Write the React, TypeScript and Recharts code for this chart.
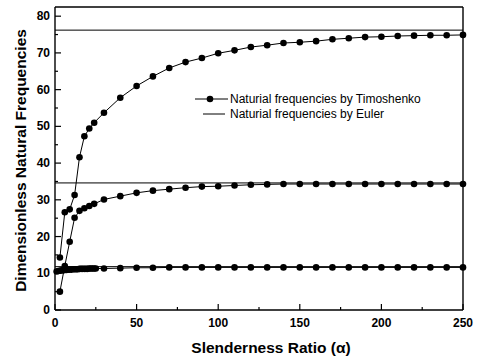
import { LineChart, Line, XAxis, YAxis, ReferenceLine, Legend } from 'recharts'

// slenderness ratios used for the 2nd and 3rd Timoshenko modes
const alphaMain = [3, 6, 9, 12, 15, 18, 21, 24, 30, 40, 50, 60, 70, 80, 90, 100, 110, 120, 130, 140, 150, 160, 170, 180, 190, 200, 210, 220, 230, 240, 250]
const mode2 = [5.0, 12.0, 18.6, 25.1, 27.0, 27.7, 28.3, 28.9, 30.1, 31.0, 31.9, 32.5, 32.9, 33.3, 33.6, 33.7, 33.9, 34.1, 34.2, 34.3, 34.3, 34.3, 34.3, 34.3, 34.3, 34.3, 34.3, 34.3, 34.3, 34.3, 34.3]
const mode3 = [14.3, 26.6, 27.4, 31.3, 41.6, 47.3, 49.4, 51.0, 53.7, 57.8, 61.0, 63.6, 65.9, 67.5, 68.6, 69.9, 70.7, 71.6, 72.1, 72.7, 72.9, 73.2, 73.7, 74.0, 74.3, 74.4, 74.6, 74.7, 74.8, 74.8, 74.9]

// first mode is sampled densely at small ratios
const alphaLow = [1, 2, 3, 4, 5, 6, 7, 8, 9, 10, 11, 12, 13, 14, 15, 16, 17, 18, 19, 20, 21, 22, 23, 24, 25, 30, 40, 50, 60, 70, 80, 90, 100, 110, 120, 130, 140, 150, 160, 170, 180, 190, 200, 210, 220, 230, 240, 250]
const mode1 = [10.5, 10.6, 10.7, 10.8, 10.8, 10.9, 10.9, 11.0, 11.0, 11.0, 11.1, 11.1, 11.1, 11.1, 11.2, 11.2, 11.2, 11.2, 11.2, 11.2, 11.3, 11.3, 11.3, 11.3, 11.3, 11.3, 11.4, 11.5, 11.5, 11.6, 11.6, 11.6, 11.6, 11.6, 11.6, 11.6, 11.6, 11.6, 11.6, 11.6, 11.6, 11.6, 11.6, 11.6, 11.6, 11.6, 11.6, 11.6]

const eulerValues = [11.8, 34.6, 76.2]
const xRange = [0, 250]

const xTicks = [0, 25, 50, 75, 100, 125, 150, 175, 200, 225, 250]
const yTicks = [0, 5, 10, 15, 20, 25, 30, 35, 40, 45, 50, 55, 60, 65, 70, 75, 80]

const FONT = '"Liberation Sans", Arial, sans-serif'

const zip = (xs: number[], ys: number[]) => xs.map((a, i) => ({ a, v: ys[i] }))

const timoshenko = [zip(alphaLow, mode1), zip(alphaMain, mode2), zip(alphaMain, mode3)]
const euler = eulerValues.map((v) => xRange.map((a) => ({ a, v })))

function XTick({ x, y, payload }: any) {
  const major = payload.value % 50 === 0
  return (
    <g>
      <line x1={x} y1={y} x2={x} y2={y - (major ? 6 : 3)} stroke="#000" strokeWidth={1.2} />
      {major && (
        <text x={x} y={y + 17} textAnchor="middle" fontSize={12} fontWeight="bold" fontFamily={FONT} fill="#000">
          {payload.value}
        </text>
      )}
    </g>
  )
}

function YTick({ x, y, payload }: any) {
  const major = payload.value % 10 === 0
  return (
    <g>
      <line x1={x} y1={y} x2={x + (major ? 6 : 3)} y2={y} stroke="#000" strokeWidth={1.2} />
      {major && (
        <text x={x - 5} y={y + 4} textAnchor="end" fontSize={12} fontWeight="bold" fontFamily={FONT} fill="#000">
          {payload.value}
        </text>
      )}
    </g>
  )
}

function LegendBox() {
  return (
    <svg width={260} height={36} style={{ display: 'block' }}>
      <line x1={5} y1={9} x2={38} y2={9} stroke="#000" strokeWidth={1} />
      <circle cx={20} cy={9} r={3.3} fill="#000" />
      <text x={40} y={13} fontSize={12} fontFamily={FONT} fill="#000">Naturial frequencies by Timoshenko</text>
      <line x1={13} y1={24} x2={35} y2={24} stroke="#000" strokeWidth={1} />
      <text x={40} y={28} fontSize={12} fontFamily={FONT} fill="#000">Naturial frequencies by Euler</text>
    </svg>
  )
}

export default function App() {
  return (
    <div style={{ position: 'absolute', left: 0, top: 0, width: 480, height: 358, background: '#fff' }}>
      <LineChart width={480} height={358} margin={{ top: 7, right: 17, bottom: 0, left: 0 }}>
        <XAxis
          dataKey="a"
          type="number"
          domain={xRange}
          ticks={xTicks}
          interval={0}
          tick={<XTick />}
          tickLine={false}
          tickSize={0}
          tickMargin={0}
          height={48}
          axisLine={{ stroke: '#000', strokeWidth: 1.4 }}
          allowDuplicatedCategory={false}
          label={{ value: 'Slenderness Ratio (α)', position: 'insideBottom', offset: 5, dx: 12, fontSize: 15.5, fontWeight: 'bold', fontFamily: FONT, fill: '#000' }}
        />
        <YAxis
          type="number"
          domain={[0, 82.5]}
          ticks={yTicks}
          interval={0}
          tick={<YTick />}
          tickLine={false}
          tickSize={0}
          tickMargin={0}
          width={55}
          axisLine={{ stroke: '#000', strokeWidth: 1.4 }}
          label={{ value: 'Dimensionless Natural Frequencies', angle: -90, position: 'insideLeft', offset: 20, dy: 2, style: { textAnchor: 'middle' }, fontSize: 15.5, fontWeight: 'bold', fontFamily: FONT, fill: '#000' }}
        />
        <ReferenceLine y={82.5} stroke="#000" strokeWidth={1.6} />
        <ReferenceLine x={250} stroke="#000" strokeWidth={1.4} />
        {euler.map((d, i) => (
          <Line key={'e' + i} data={d} dataKey="v" stroke="#000" strokeWidth={1} dot={false} isAnimationActive={false} />
        ))}
        {timoshenko.map((d, i) => (
          <Line
            key={'t' + i}
            data={d}
            dataKey="v"
            stroke="#000"
            strokeWidth={1}
            dot={{ r: 3.3, fill: '#000', stroke: 'none' }}
            activeDot={false}
            isAnimationActive={false}
          />
        ))}
        <Legend
          layout="horizontal"
          verticalAlign="middle"
          align="center"
          content={() => <LegendBox />}
          wrapperStyle={{ position: 'absolute', left: 190, top: 90, width: 260 }}
        />
      </LineChart>
    </div>
  )
}
